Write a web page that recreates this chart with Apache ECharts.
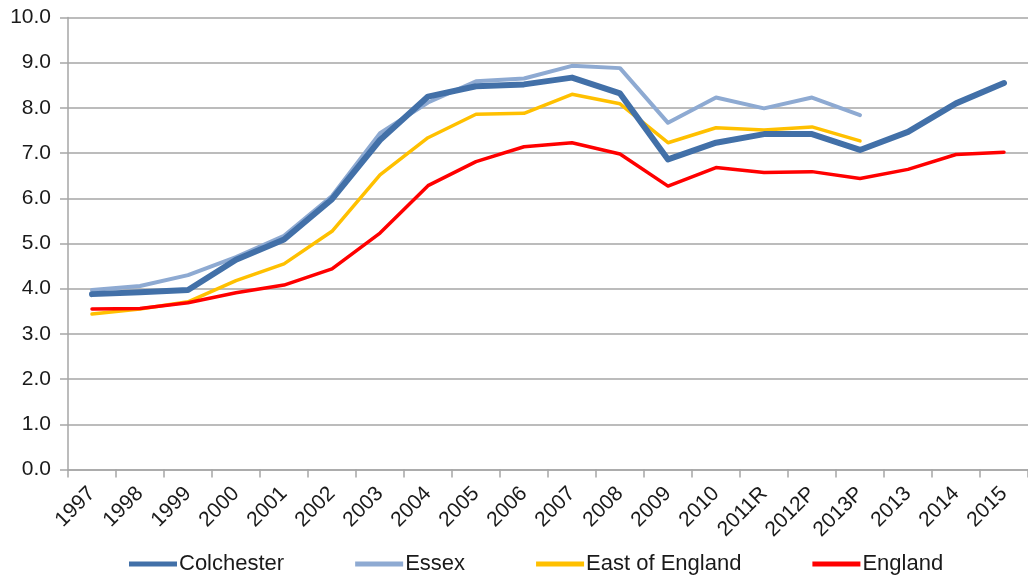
<!DOCTYPE html>
<html>
<head>
<meta charset="utf-8">
<script src="https://cdn.jsdelivr.net/npm/echarts@6/dist/echarts.min.js"></script>
<style>
  html, body { margin: 0; padding: 0; background: #ffffff; }
  #chart { width: 1028px; height: 577px; }
</style>
</head>
<body>
<div id="chart"></div>
<script>
// Year labels along the category axis
var categories = ['1997', '1998', '1999', '2000', '2001', '2002', '2003', '2004', '2005', '2006',
  '2007', '2008', '2009', '2010', '2011R', '2012P', '2013P', '2013', '2014', '2015'];

// Ratio values per area (null where no figure is published)
var colchester = [3.88, 3.92, 3.97, 4.64, 5.09, 5.98, 7.29, 8.25, 8.48, 8.52,
  8.67, 8.32, 6.86, 7.23, 7.42, 7.42, 7.07, 7.47, 8.10, 8.55];
var essex = [3.97, 4.06, 4.30, 4.70, 5.17, 6.05, 7.44, 8.12, 8.59, 8.65,
  8.93, 8.88, 7.67, 8.23, 7.99, 8.23, 7.84, null, null, null];
var eastOfEngland = [3.44, 3.55, 3.71, 4.18, 4.55, 5.27, 6.52, 7.34, 7.86, 7.88,
  8.30, 8.09, 7.23, 7.56, 7.51, 7.58, 7.27, null, null, null];
var england = [3.55, 3.56, 3.69, 3.91, 4.08, 4.44, 5.23, 6.28, 6.81, 7.14,
  7.23, 6.98, 6.27, 6.68, 6.57, 6.59, 6.44, 6.64, 6.97, 7.02];

// Value axis ticks
var yMin = 0, yMax = 10, yStep = 1;

var textColor = '#1a1a1a';
var axisGrey = '#a6a6a6';
var fontFamily = '"Liberation Sans", Arial, sans-serif';

var colors = {
  Colchester: '#4270a8',
  Essex: '#8eaad2',
  'East of England': '#ffc000',
  England: '#ff0000'
};

function lineSeries(name, data, width) {
  return {
    name: name,
    type: 'line',
    data: data,
    symbol: 'none',
    connectNulls: false,
    lineStyle: { color: colors[name], width: width, cap: 'round', join: 'round' },
    itemStyle: { color: colors[name] },
    emphasis: { disabled: true }
  };
}

var chart = echarts.init(document.getElementById('chart'), null, { renderer: 'canvas' });

chart.setOption({
  animation: false,
  backgroundColor: '#ffffff',
  textStyle: { fontFamily: fontFamily },
  grid: { left: 68, top: 17.5, width: 964, bottom: 107.5, containLabel: false },
  legend: {
    left: 124,
    top: 548,
    itemWidth: 48,
    itemHeight: 5,
    itemGap: 71,
    icon: 'rect',
    textStyle: { color: textColor, fontSize: 22, fontFamily: fontFamily, padding: [0, 0, 0, -3] },
    data: [
      { name: 'Colchester', itemStyle: { color: colors.Colchester } },
      { name: 'Essex', itemStyle: { color: colors.Essex } },
      { name: 'East of England', itemStyle: { color: colors['East of England'] } },
      { name: 'England', itemStyle: { color: colors.England } }
    ]
  },
  xAxis: {
    type: 'category',
    data: categories,
    boundaryGap: true,
    axisLine: { show: true, lineStyle: { color: axisGrey, width: 1.5 } },
    axisTick: { show: true, length: 8, alignWithLabel: false, lineStyle: { color: axisGrey, width: 1.5 } },
    axisLabel: {
      interval: 0,
      rotate: 45,
      margin: 21,
      color: textColor,
      fontSize: 21,
      fontFamily: fontFamily
    },
    splitLine: { show: false }
  },
  yAxis: {
    type: 'value',
    min: yMin,
    max: yMax,
    interval: yStep,
    axisLine: { show: true, lineStyle: { color: axisGrey, width: 1.5 } },
    axisTick: { show: true, length: 8, lineStyle: { color: axisGrey, width: 1.5 } },
    axisLabel: {
      margin: 17,
      color: textColor,
      fontSize: 21,
      fontFamily: fontFamily,
      formatter: function (v) { return v.toFixed(1); }
    },
    splitLine: { show: true, lineStyle: { color: axisGrey, width: 1.5 } }
  },
  series: [
    lineSeries('Essex', essex, 4),
    lineSeries('East of England', eastOfEngland, 3.5),
    lineSeries('England', england, 3.5),
    lineSeries('Colchester', colchester, 6)
  ]
});
</script>
</body>
</html>
